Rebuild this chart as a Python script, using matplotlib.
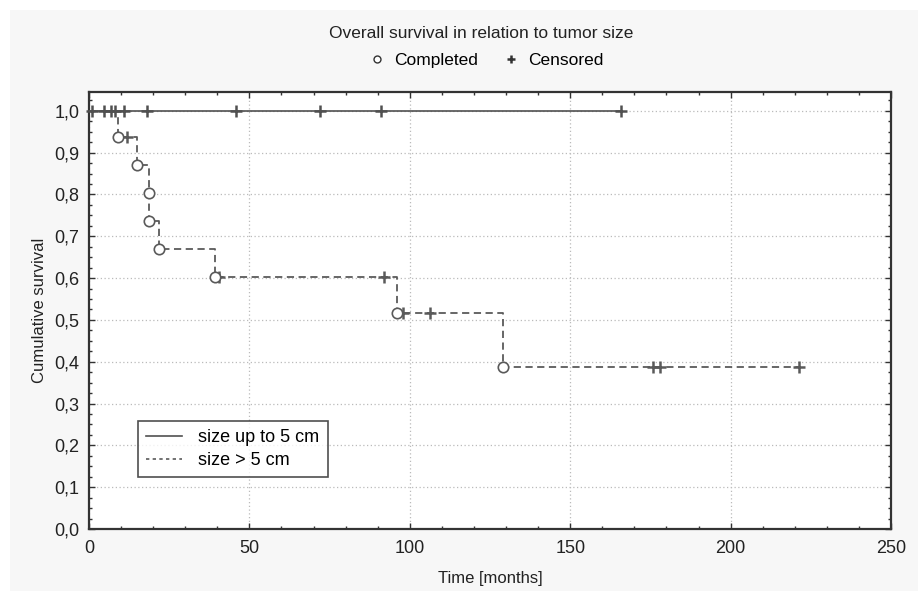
import matplotlib
matplotlib.use("Agg")
import matplotlib.pyplot as plt
from matplotlib.lines import Line2D
from matplotlib.patches import Rectangle
from matplotlib.ticker import MultipleLocator, FuncFormatter

plt.rcParams['font.family'] = ['Liberation Sans', 'DejaVu Sans']

# ---- data ----
title = "Overall survival in relation to tumor size"
series_names = ["size up to 5 cm", "size > 5 cm"]

# group 1: all censored, survival stays at 1.0
g1_cens_times = [0.8, 4.75, 7.0, 8.1, 10.9, 18.0, 45.7, 72.0, 91.0, 165.8]
g1_cens_surv = [1.0] * 10

# group 2: events (Completed) and censored observations
g2_event_times = [9.0, 15.1, 18.8, 18.8, 21.7, 39.2, 96.1, 129.0]
g2_event_surv = [0.9375, 0.8705, 0.8036, 0.7366, 0.6697, 0.6027, 0.5166, 0.3874]
g2_cens_times = [11.9, 40.5, 92.0, 98.0, 106.2, 175.9, 178.1, 221.2]
g2_cens_surv = [0.9375, 0.6027, 0.6027, 0.5166, 0.5166, 0.3874, 0.3874, 0.3874]

xticks = [0, 50, 100, 150, 200, 250]
yticks = [0.0, 0.1, 0.2, 0.3, 0.4, 0.5, 0.6, 0.7, 0.8, 0.9, 1.0]

# ---- figure ----
W, H = 918, 591
fig = plt.figure(figsize=(W / 100, H / 100), dpi=100, facecolor='white')
fig.patches.append(Rectangle((10 / W, 0), 1 - 10 / W, 1 - 10 / H,
                             transform=fig.transFigure, facecolor='#f7f7f7',
                             edgecolor='none', zorder=-10))

ax = fig.add_axes([89 / W, 1 - 529 / H, (891 - 89) / W, (529 - 92) / H])
ax.set_facecolor('white')

line_col = '#505050'
dash_col = '#5a5a5a'

# group 1 line
g1_x = [0.0] + [g1_cens_times[-1]]
g1_y = [1.0, 1.0]
ax.plot(g1_x, g1_y, color=line_col, lw=1.2, zorder=3)
ax.plot(g1_cens_times, g1_cens_surv, ls='none', marker='+', ms=9, mew=1.8,
        color=line_col, zorder=4, clip_on=False)

# group 2 step line
g2_x = [0.0] + g2_event_times + [g2_cens_times[-1]]
g2_y = [1.0] + g2_event_surv + [g2_event_surv[-1]]
ax.plot(g2_x, g2_y, drawstyle='steps-post', color=dash_col, lw=1.3,
        dashes=(4, 2.5), zorder=3)
ax.plot(g2_event_times, g2_event_surv, ls='none', marker='o', ms=7.5,
        mfc='white', mec=dash_col, mew=1.2, zorder=5)
ax.plot(g2_cens_times, g2_cens_surv, ls='none', marker='+', ms=9, mew=1.8,
        color=dash_col, zorder=4)

ax.set_xlim(0, 250)
ax.set_ylim(0, 1.045)
ax.set_xticks(xticks)
ax.set_yticks(yticks)
ax.xaxis.set_minor_locator(MultipleLocator(10))
ax.yaxis.set_minor_locator(MultipleLocator(0.025))
ax.yaxis.set_major_formatter(FuncFormatter(lambda v, p: f"{v:.1f}".replace('.', ',')))
ax.tick_params(which='both', direction='in', top=True, right=True,
               color='#333333', labelsize=13, labelcolor='#222222')
ax.tick_params(which='major', length=4, width=1)
ax.tick_params(which='minor', length=2.5, width=1)
ax.tick_params(axis='x', which='major', pad=8)
ax.tick_params(axis='y', which='major', pad=7)
ax.grid(True, which='major', ls=(0, (1, 2)), color='#bbbbbb', lw=0.9, zorder=0)
for s in ax.spines.values():
    s.set_color('#333333')
    s.set_linewidth(1.6)

ax.set_xlabel("Time [months]", fontsize=12, color='#222222', labelpad=10)
ax.set_ylabel("Cumulative survival", fontsize=12, color='#222222', labelpad=5)

# series legend
handles = [Line2D([], [], color=line_col, lw=1.2),
           Line2D([], [], color=dash_col, lw=1.2, dashes=(2, 2))]
leg = ax.legend(handles, series_names, loc='lower left',
                bbox_to_anchor=(0.061, 0.119), borderaxespad=0,
                fontsize=13, frameon=True,
                fancybox=False, edgecolor='#222222', handlelength=2.0,
                handletextpad=0.9, borderpad=0.45, labelspacing=0.3)
leg.get_frame().set_linewidth(1.2)

# title and marker legend
fig.text(481 / W, 1 - 33 / H, title, ha='center', va='center',
         fontsize=12.5, color='#222222')
mh = [Line2D([], [], ls='none', marker='o', ms=5, mfc='white', mec='#333333', mew=1),
      Line2D([], [], ls='none', marker='+', ms=6, mew=1.8, color='#333333')]
fig.legend(mh, ["Completed", "Censored"], loc='center', ncol=2,
           bbox_to_anchor=(486 / W, 1 - 60 / H), frameon=False, fontsize=12.5,
           handlelength=1.0, handletextpad=0.5, columnspacing=1.4)

fig.savefig("out.png", dpi=100, facecolor=fig.get_facecolor())
